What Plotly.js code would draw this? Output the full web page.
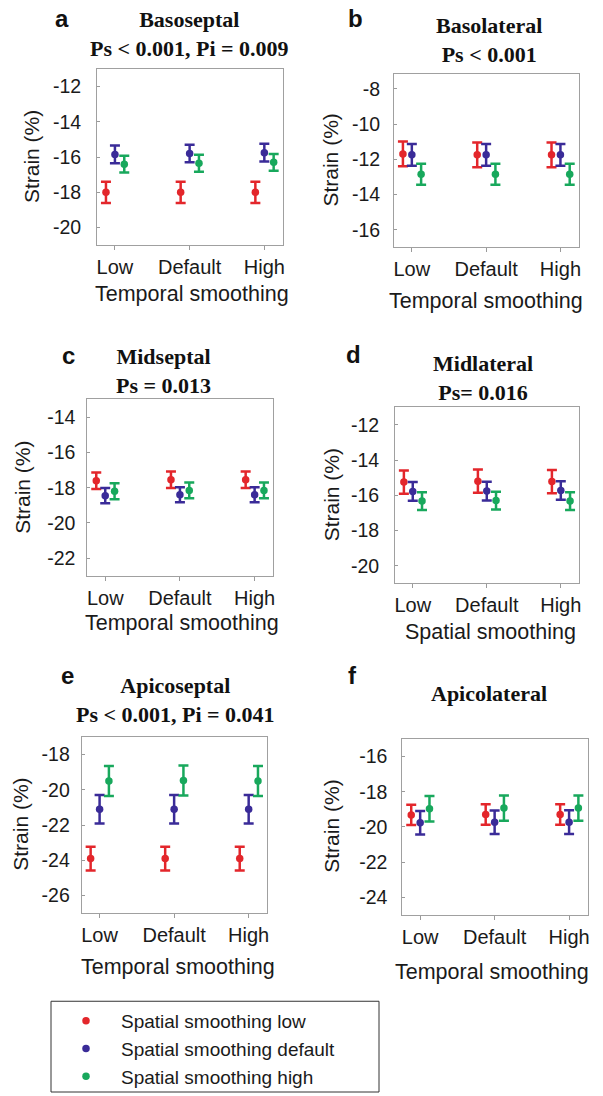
<!DOCTYPE html>
<html>
<head>
<meta charset="utf-8">
<script src="https://cdn.plot.ly/plotly-3.0.1.min.js"></script>
<style>html,body{margin:0;padding:0;background:#fff;}#chart{width:603px;height:1096px;}</style>
</head>
<body>
<div id="chart"></div>
<script>
// ---------- DATA ----------
const categories = ['Low', 'Default', 'High'];
const seriesNames = ['Spatial smoothing low', 'Spatial smoothing default', 'Spatial smoothing high'];

// a: Basoseptal
const basoseptal_low = [-18.0, -18.0, -18.0];
const basoseptal_low_err = [0.6, 0.6, 0.6];
const basoseptal_default = [-15.85, -15.8, -15.75];
const basoseptal_default_err = [0.5, 0.5, 0.5];
const basoseptal_high = [-16.4, -16.35, -16.3];
const basoseptal_high_err = [0.48, 0.48, 0.48];
const basoseptal_ticks = [-20, -18, -16, -14, -12];

// b: Basolateral
const basolateral_low = [-11.7, -11.75, -11.75];
const basolateral_low_err = [0.7, 0.7, 0.7];
const basolateral_default = [-11.75, -11.75, -11.75];
const basolateral_default_err = [0.62, 0.62, 0.62];
const basolateral_high = [-12.85, -12.85, -12.85];
const basolateral_high_err = [0.6, 0.6, 0.6];
const basolateral_ticks = [-16, -14, -12, -10, -8];

// c: Midseptal
const midseptal_low = [-17.6, -17.55, -17.55];
const midseptal_low_err = [0.47, 0.47, 0.47];
const midseptal_default = [-18.45, -18.4, -18.4];
const midseptal_default_err = [0.43, 0.43, 0.43];
const midseptal_high = [-18.2, -18.15, -18.15];
const midseptal_high_err = [0.45, 0.45, 0.45];
const midseptal_ticks = [-22, -20, -18, -16, -14];

// d: Midlateral
const midlateral_low = [-15.25, -15.2, -15.22];
const midlateral_low_err = [0.66, 0.66, 0.66];
const midlateral_default = [-15.78, -15.76, -15.73];
const midlateral_default_err = [0.53, 0.53, 0.53];
const midlateral_high = [-16.33, -16.3, -16.33];
const midlateral_high_err = [0.5, 0.5, 0.5];
const midlateral_ticks = [-20, -18, -16, -14, -12];

// e: Apicoseptal
const apicoseptal_low = [-23.9, -23.9, -23.9];
const apicoseptal_low_err = [0.67, 0.67, 0.67];
const apicoseptal_default = [-21.1, -21.1, -21.1];
const apicoseptal_default_err = [0.81, 0.81, 0.81];
const apicoseptal_high = [-19.5, -19.47, -19.5];
const apicoseptal_high_err = [0.85, 0.85, 0.85];
const apicoseptal_ticks = [-26, -24, -22, -20, -18];

// f: Apicolateral
const apicolateral_low = [-19.32, -19.3, -19.3];
const apicolateral_low_err = [0.58, 0.58, 0.58];
const apicolateral_default = [-19.76, -19.74, -19.73];
const apicolateral_default_err = [0.67, 0.67, 0.67];
const apicolateral_high = [-18.97, -18.93, -18.93];
const apicolateral_high_err = [0.72, 0.72, 0.72];
const apicolateral_ticks = [-24, -22, -20, -18, -16];

// ---------- LAYOUT CONFIG ----------
const W = 603, H = 1096;
const fx = v => v / W;
const fy = v => 1 - v / H;
const colors = ['#e3262b', '#3a2b98', '#18a85c'];
const offsets = [-0.12, 0, 0.125];

const panels = [
  {letter: 'a', title: 'Basoseptal<br>Ps < 0.001, Pi = 0.009', xtitle: 'Temporal smoothing',
   series: [[basoseptal_low, basoseptal_low_err], [basoseptal_default, basoseptal_default_err], [basoseptal_high, basoseptal_high_err]],
   ticks: basoseptal_ticks, yr: [-21, -11],
   box: [97, 283, 69, 246], standoff: 11,
   letterPos: [62, 19], titlePos: [189, 34], xtPos: [192, 295], ytPos: [31, 157.5]},
  {letter: 'b', title: 'Basolateral<br>Ps < 0.001', xtitle: 'Temporal smoothing',
   series: [[basolateral_low, basolateral_low_err], [basolateral_default, basolateral_default_err], [basolateral_high, basolateral_high_err]],
   ticks: basolateral_ticks, yr: [-17, -7.15],
   box: [394, 579, 74, 248], standoff: 9,
   letterPos: [355, 19], titlePos: [489, 40], xtPos: [486, 301.7], ytPos: [331, 161]},
  {letter: 'c', title: 'Midseptal<br>Ps = 0.013', xtitle: 'Temporal smoothing',
   series: [[midseptal_low, midseptal_low_err], [midseptal_default, midseptal_default_err], [midseptal_high, midseptal_high_err]],
   ticks: midseptal_ticks, yr: [-23, -12.95],
   box: [87.3, 273.3, 400, 577.3], standoff: 7,
   letterPos: [68, 356], titlePos: [163, 371.7], xtPos: [182, 625], ytPos: [22.5, 488.7]},
  {letter: 'd', title: 'Midlateral<br>Ps= 0.016', xtitle: 'Spatial smoothing',
   series: [[midlateral_low, midlateral_low_err], [midlateral_default, midlateral_default_err], [midlateral_high, midlateral_high_err]],
   ticks: midlateral_ticks, yr: [-21, -11],
   box: [395, 579.3, 408.3, 585], standoff: 11,
   letterPos: [353, 355], titlePos: [483, 379], xtPos: [490.5, 633.3], ytPos: [331, 496.7]},
  {letter: 'e', title: 'Apicoseptal<br>Ps < 0.001, Pi = 0.041', xtitle: 'Temporal smoothing',
   series: [[apicoseptal_low, apicoseptal_low_err], [apicoseptal_default, apicoseptal_default_err], [apicoseptal_high, apicoseptal_high_err]],
   ticks: apicoseptal_ticks, yr: [-27, -17],
   box: [81.7, 267.3, 739, 915.7], standoff: 7,
   letterPos: [67, 677], titlePos: [175, 701.7], xtPos: [178, 970], ytPos: [21, 827]},
  {letter: 'f', title: 'Apicolateral', xtitle: 'Temporal smoothing',
   series: [[apicolateral_low, apicolateral_low_err], [apicolateral_default, apicolateral_default_err], [apicolateral_high, apicolateral_high_err]],
   ticks: apicolateral_ticks, yr: [-25, -15],
   box: [402.3, 587.7, 741, 917.3], standoff: 10,
   letterPos: [352.5, 677], titlePos: [489, 695], xtPos: [492, 975], ytPos: [332, 829]}
];

const sansFont = 'Liberation Sans, Arial, Helvetica, sans-serif';
const serifFont = 'Liberation Serif, Times New Roman, serif';

const data = [];
const layout = {
  width: W, height: H,
  margin: {l: 0, r: 0, t: 0, b: 0, pad: 0},
  paper_bgcolor: '#fff', plot_bgcolor: '#fff',
  font: {family: sansFont, color: '#1a1a1a', size: 19},
  showlegend: true,
  legend: {
    x: fx(51), y: fy(1005), xanchor: 'left', yanchor: 'top',
    bgcolor: 'rgba(0,0,0,0)', borderwidth: 0,
    itemwidth: 60,
    font: {family: sansFont, size: 19, color: '#1a1a1a'},
    traceorder: 'normal'
  },
  annotations: [],
  shapes: [{
    type: 'rect', xref: 'paper', yref: 'paper',
    x0: fx(51), x1: fx(379), y0: fy(1095), y1: fy(1004),
    line: {color: '#333', width: 1}, fillcolor: 'rgba(0,0,0,0)'
  }]
};

panels.forEach((p, i) => {
  const sfx = i === 0 ? '' : String(i + 1);
  const xa = 'x' + sfx, ya = 'y' + sfx;
  p.series.forEach((s, k) => {
    data.push({
      type: 'scatter', mode: 'markers',
      x: categories.map((c, j) => j + offsets[k]),
      y: s[0],
      error_y: {type: 'data', array: s[1], visible: true, color: colors[k], thickness: 2.5, width: 5},
      marker: {color: colors[k], size: 7.5},
      name: seriesNames[k],
      legendgroup: 'g' + k,
      showlegend: i === 0,
      xaxis: xa, yaxis: ya,
      hoverinfo: 'skip'
    });
  });
  const [x0, x1, y0, y1] = p.box;
  layout['xaxis' + sfx] = {
    domain: [fx(x0), fx(x1)], anchor: ya,
    range: [-0.24, 2.25], tickmode: 'array',
    tickvals: categories.map((c, j) => j), ticktext: categories,
    ticks: 'outside', ticklen: 4, tickcolor: '#9a9a9a', tickwidth: 1,
    showline: true, linecolor: '#a0a0a0', linewidth: 1, mirror: true,
    showgrid: false, zeroline: false, fixedrange: true,
    tickfont: {family: sansFont, size: 20, color: '#1a1a1a'}
  };
  layout['yaxis' + sfx] = {
    domain: [fy(y1), fy(y0)], anchor: xa,
    range: p.yr, tickmode: 'array',
    tickvals: p.ticks, ticktext: p.ticks.map(v => String(v)),
    ticks: 'inside', ticklen: 3, tickcolor: '#9a9a9a', tickwidth: 1,
    ticklabelstandoff: p.standoff,
    showline: true, linecolor: '#a0a0a0', linewidth: 1, mirror: true,
    showgrid: false, zeroline: false, fixedrange: true,
    tickfont: {family: sansFont, size: 19.5, color: '#1a1a1a'}
  };
  const ann = (text, pos, font, extra) => Object.assign({
    text: text, xref: 'paper', yref: 'paper', x: fx(pos[0]), y: fy(pos[1]),
    xanchor: 'center', yanchor: 'middle', showarrow: false, font: font
  }, extra || {});
  layout.annotations.push(ann(p.letter, p.letterPos, {family: sansFont, size: 24, color: '#111', weight: 'bold'}));
  layout.annotations.push(ann('<b>' + p.title.split('<br>').join('</b><br><b>') + '</b>', p.titlePos, {family: serifFont, size: 22, color: '#111'}));
  layout.annotations.push(ann(p.xtitle, p.xtPos, {family: sansFont, size: 21.5, color: '#1a1a1a'}));
  layout.annotations.push(ann('Strain (%)', p.ytPos, {family: sansFont, size: 21, color: '#1a1a1a'}, {textangle: -90}));
});

Plotly.newPlot('chart', data, layout, {staticPlot: true, displayModeBar: false});
</script>
</body>
</html>
